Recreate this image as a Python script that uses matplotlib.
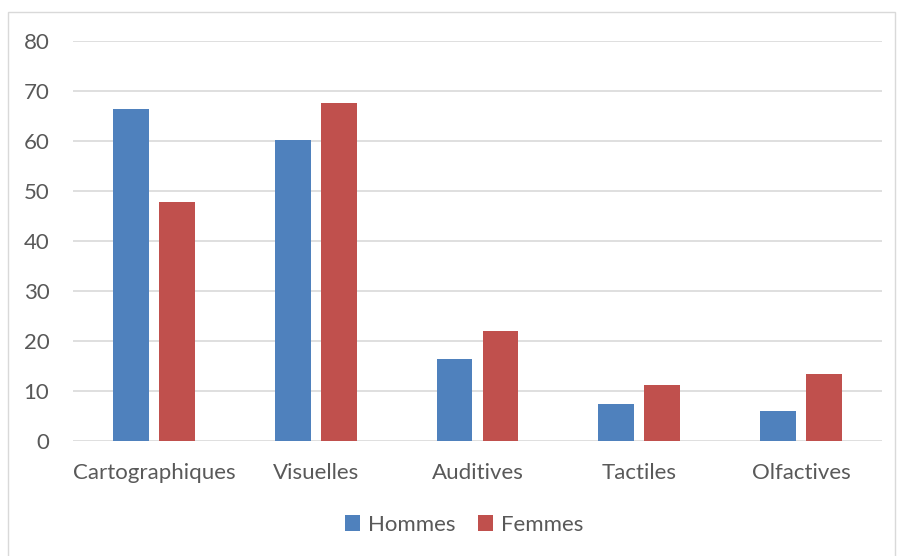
import matplotlib.pyplot as plt
import numpy as np
from matplotlib.patches import Rectangle

categories = ["Cartographiques", "Visuelles", "Auditives", "Tactiles", "Olfactives"]
hommes = [66.5, 60.2, 16.5, 7.4, 6.1]
femmes = [47.9, 67.7, 22.1, 11.3, 13.5]
yticks = [0, 10, 20, 30, 40, 50, 60, 70, 80]

plt.rcParams["font.family"] = ["Lato", "DejaVu Sans"]
text_col = "#595959"

fig = plt.figure(figsize=(8.99, 5.56), dpi=100)
ax = fig.add_axes([73 / 899, 1 - 441 / 556, 809 / 899, 400 / 556])

# outer chart border
fig.patches.append(Rectangle((8 / 899, -0.01), 887 / 899, 1 - 12 / 556 + 0.01,
                             transform=fig.transFigure, fill=False,
                             edgecolor="#d9d9d9", linewidth=1))

x = np.arange(len(categories))
w = 0.222
ax.bar(x - 0.142, hommes, w, color="#4f81bd", label="Hommes", zorder=3)
ax.bar(x + 0.142, femmes, w, color="#c0504d", label="Femmes", zorder=3)

ax.set_xlim(-0.5, len(categories) - 0.5)
ax.set_ylim(0, 80)
ax.set_yticks(yticks)
ax.set_xticks(x)
ax.set_xticklabels(categories)
ax.grid(axis="y", color="#d9d9d9", linewidth=1.2, zorder=0)
for s in ax.spines.values():
    s.set_visible(False)
ax.tick_params(axis="both", length=0, labelsize=16, colors=text_col)
ax.tick_params(axis="x", pad=16)
ax.tick_params(axis="y", pad=17)

ax.legend(loc="center", bbox_to_anchor=(464 / 899, 1 - 525 / 556),
          bbox_transform=fig.transFigure, ncol=2, frameon=False,
          fontsize=16, labelcolor=text_col, handlelength=0.7, handleheight=0.7,
          handletextpad=0.35, columnspacing=1.0)

fig.savefig("out.png", dpi=100)
